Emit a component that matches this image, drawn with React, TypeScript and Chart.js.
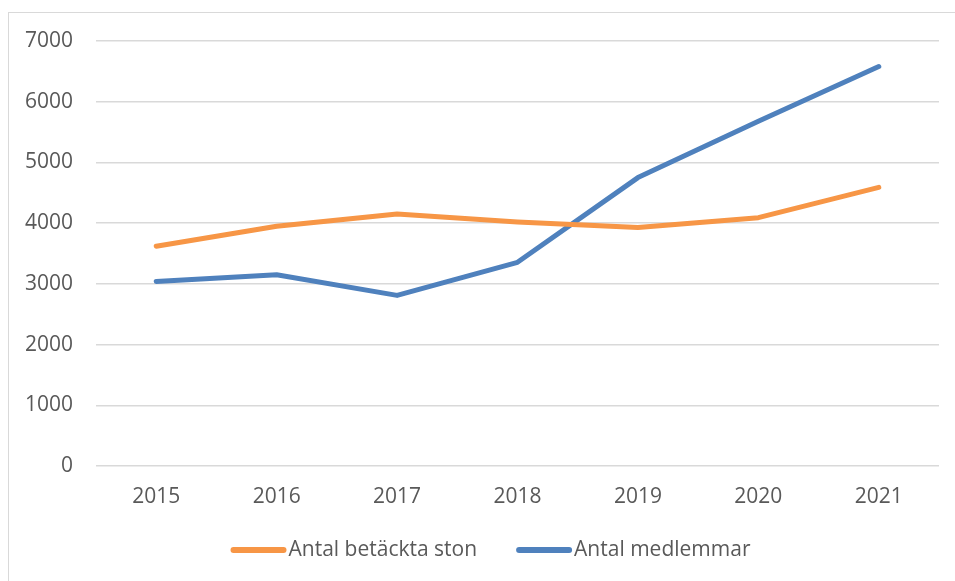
import React, { useEffect, useRef } from "react";
import { Chart, registerables } from "chart.js";

Chart.register(...registerables);

const years = ["2015", "2016", "2017", "2018", "2019", "2020", "2021"];
const betacktaSton = [3620, 3950, 4150, 4020, 3930, 4090, 4590];
const medlemmar = [3040, 3150, 2810, 3355, 4750, 5680, 6580];
const seriesLabels = ["Antal betäckta ston", "Antal medlemmar"];
const seriesColors = ["#F79646", "#4F81BD"];

const FONT = "'Open Sans', sans-serif";
const TEXT = "#595959";
const FS = 21;

const legendPlugin = {
  id: "customLegend",
  afterDraw(chart: any) {
    const ctx = chart.ctx;
    ctx.save();
    ctx.font = `${FS}px ${FONT}`;
    ctx.textBaseline = "middle";
    const lineW = 56;
    const gap = 2;
    const itemGap = 39;
    const items = chart.data.datasets.map((ds: any) => ({
      label: ds.label,
      color: ds.borderColor,
      w: ctx.measureText(ds.label).width,
    }));
    const total =
      items.reduce((s: number, it: any) => s + lineW + gap + it.w, 0) +
      itemGap * (items.length - 1);
    let x = 490.5 - total / 2;
    const y = 550;
    for (const it of items) {
      ctx.strokeStyle = it.color;
      ctx.lineWidth = 6;
      ctx.lineCap = "round";
      ctx.beginPath();
      ctx.moveTo(x + 3, y);
      ctx.lineTo(x + lineW - 3, y);
      ctx.stroke();
      ctx.fillStyle = TEXT;
      ctx.textAlign = "left";
      ctx.fillText(it.label, x + lineW + gap, y);
      x += lineW + gap + it.w + itemGap;
    }
    ctx.restore();
  },
};

export default function App() {
  const ref = useRef<HTMLCanvasElement>(null);
  useEffect(() => {
    if (!ref.current) return;
    const chart = new Chart(ref.current, {
      type: "line",
      data: {
        labels: years,
        datasets: [
          {
            label: seriesLabels[0],
            data: betacktaSton,
            borderColor: seriesColors[0],
            backgroundColor: seriesColors[0],
            borderWidth: 5,
            pointRadius: 0,
            borderCapStyle: "round",
            borderJoinStyle: "round",
            tension: 0,
          },
          {
            label: seriesLabels[1],
            data: medlemmar,
            borderColor: seriesColors[1],
            backgroundColor: seriesColors[1],
            borderWidth: 5,
            pointRadius: 0,
            borderCapStyle: "round",
            borderJoinStyle: "round",
            tension: 0,
          },
        ],
      },
      options: {
        animation: false,
        responsive: false,
        layout: { padding: { top: 41, right: 16, bottom: 72, left: 0 } },
        plugins: {
          legend: { display: false },
          tooltip: { enabled: false },
        },
        scales: {
          x: {
            offset: true,
            grid: { display: false, drawTicks: false },
            border: { display: false },
            ticks: { color: TEXT, font: { family: FONT, size: FS }, padding: 18 },
            afterFit: (s: any) => {
              s.height = 43;
            },
          },
          y: {
            min: 0,
            max: 7000,
            grid: { color: "#D9D9D9", lineWidth: 1.5, drawTicks: false },
            border: { display: false },
            ticks: {
              stepSize: 1000,
              color: TEXT,
              font: { family: FONT, size: FS },
              padding: 23,
              callback: (v: any) => String(v),
            },
            afterFit: (s: any) => {
              s.width = 96;
            },
          },
        },
      },
      plugins: [legendPlugin],
    });
    return () => chart.destroy();
  }, []);

  return (
    <div style={{ position: "fixed", left: 0, top: 0, width: 955, height: 581, background: "#fff" }}>
      <div
        style={{
          position: "absolute",
          left: 8,
          top: 12,
          right: -2,
          bottom: -2,
          borderLeft: "1.5px solid #D9D9D9",
          borderTop: "1.5px solid #D9D9D9",
        }}
      />
      <canvas
        ref={ref}
        width={955}
        height={581}
        style={{ position: "absolute", left: 0, top: 0, width: 955, height: 581 }}
      />
    </div>
  );
}
